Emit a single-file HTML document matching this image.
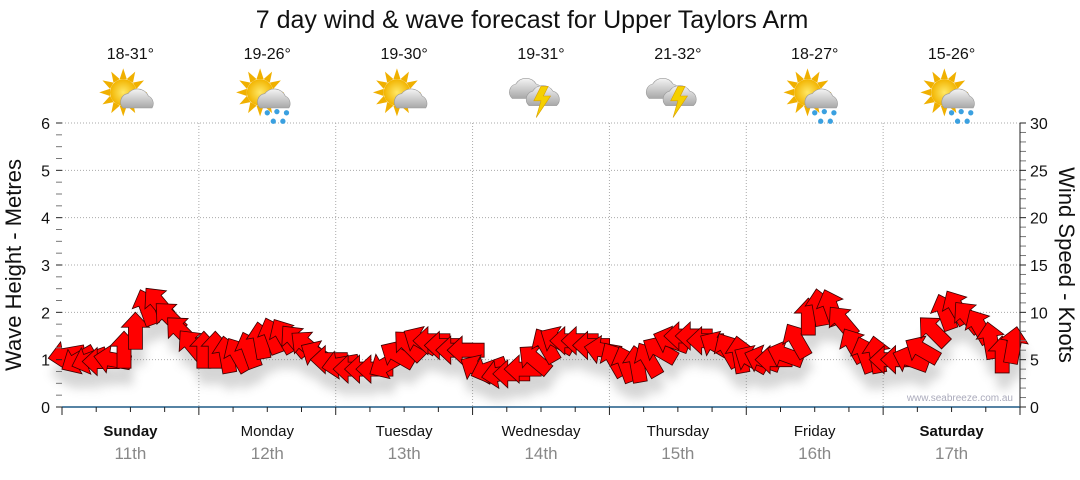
<!DOCTYPE html>
<html><head><meta charset="utf-8"><style>
body{margin:0;background:#fff;}
svg text{font-family:"Liberation Sans",sans-serif;}
</style></head><body>
<svg id="chart" width="1080" height="475" viewBox="0 0 1080 475" xmlns="http://www.w3.org/2000/svg">
<defs>
<filter id="shadow" x="-50%" y="-50%" width="200%" height="200%"><feGaussianBlur stdDeviation="5"/></filter>
<radialGradient id="sunG" cx="0.5" cy="0.5" r="0.5"><stop offset="0" stop-color="#ffe866"/><stop offset="1" stop-color="#f2b400"/></radialGradient>
<linearGradient id="cloudG" x1="0" y1="0" x2="0" y2="1"><stop offset="0" stop-color="#f4f4f4"/><stop offset="1" stop-color="#a8a8a8"/></linearGradient>
</defs>
<text x="532" y="28" font-size="25" text-anchor="middle" fill="#111">7 day wind &amp; wave forecast for Upper Taylors Arm</text>
<text transform="translate(21,265) rotate(-90)" font-size="22" text-anchor="middle" fill="#111">Wave Height - Metres</text>
<text transform="translate(1059,265) rotate(90)" font-size="22" text-anchor="middle" fill="#111">Wind Speed - Knots</text>
<g id="grid"></g>
<g id="shadows" filter="url(#shadow)" opacity="0.3"></g>
<g id="arrows"></g>
<g id="axes"></g>
<g id="icons"></g>
<text x="1013" y="401" font-size="10" text-anchor="end" fill="#aab">www.seabreeze.com.au</text>
</svg>
<script>
const days = ["Sunday","Monday","Tuesday","Wednesday","Thursday","Friday","Saturday"];
const dates = ["11th","12th","13th","14th","15th","16th","17th"];
const temps = ["18-31°","19-26°","19-30°","19-31°","21-32°","18-27°","15-26°"];
const icons = ["partly","rain","partly","storm","storm","rain","rain"];
const waveTicks = [0,1,2,3,4,5,6];
const windTicks = [0,5,10,15,20,25,30];
const windSpeed = [
5.5,5,5,4.8,5,6,8,10.5,11,9.5,8,6.5,
6,6,5.5,5.5,6,7,7.5,7.5,7,6.5,5.5,5,
4.5,4,4,4,4.5,5.5,6.5,7,7,6.5,6,6,
4,4,3.5,3.5,4,5,6.5,7,7,7,6.5,6,
5,4.5,4.5,5,6,7,7.5,7.5,7,6.5,6,5.5,
5,5,5,5.5,7,9.5,10.5,10.5,9,6.5,5.5,5.5,
5,5,5,6,8,10,10.5,9.5,8.5,7,5.5,6.5];
const windDir = [
-100,-120,-110,-90,-80,0,0,-20,-40,-45,-45,-40,
0,0,-10,-30,-20,-10,-20,-30,-40,-50,-60,-90,
-100,-90,-90,-90,-120,-60,-45,-60,-90,-90,-90,-90,
-60,-110,-100,-90,-90,-50,-30,-60,-90,-90,-90,-80,
-30,-20,-10,-30,-60,-70,-90,-90,-90,-60,-30,-10,
-60,-70,-90,-70,-30,0,-10,-20,-40,-30,-20,-10,
-90,-90,-70,-60,-45,-20,-30,-40,-30,-10,0,10];

const NS="http://www.w3.org/2000/svg";
const X0=62,X1=1020,Y0=407,Y1=123;
const dayW=(X1-X0)/7;
const yWave=v=>Y0-(v/6)*(Y0-Y1);
const yWind=v=>Y0-(v/30)*(Y0-Y1);
const xIdx=i=>X0+i*(X1-X0)/windSpeed.length+5;
function mk(tag,attrs,parent){const e=document.createElementNS(NS,tag);for(const k in attrs)e.setAttribute(k,attrs[k]);parent.appendChild(e);return e;}
const grid=document.getElementById('grid'),axes=document.getElementById('axes');
waveTicks.forEach(v=>{
  if(v>0){const l=mk('line',{x1:X0,x2:X1,y1:yWave(v),y2:yWave(v),stroke:'#aaa','stroke-dasharray':'1,2'},grid);
  
  }
  const t=mk('text',{x:50,y:yWave(v)+6,'font-size':16,'text-anchor':'end',fill:'#111'},axes);t.textContent=v;
  
  
});
windTicks.forEach(v=>{const t=mk('text',{x:1030,y:yWind(v)+6,'font-size':16,fill:'#111'},axes);t.textContent=v;
  
  });
for(let k=0;k<=24;k++){const y=Y0-k*(Y0-Y1)/24;mk('line',{x1:56,x2:62,y1:y,y2:y,stroke:k%4==0?'#222':'#777'},axes);}
for(let k=0;k<=30;k++){const y=yWind(k);mk('line',{x1:X1,x2:X1+6,y1:y,y2:y,stroke:k%5==0?'#222':'#777'},axes);}
mk('line',{x1:X1,x2:X1,y1:Y1,y2:Y0,stroke:'#222'},axes);
for(let d=1;d<7;d++){const x=X0+d*dayW;const l=mk('line',{x1:x,x2:x,y1:Y1,y2:Y0,stroke:'#aaa','stroke-dasharray':'1,2'},grid);
  
  }
mk('line',{x1:X0,x2:X1,y1:Y0,y2:Y0,stroke:'#1f5a86','stroke-width':1.5},axes);
for(let k=0;k<=28;k++){const x=X0+k*dayW/4;mk('line',{x1:x,x2:x,y1:Y0,y2:Y0+(k%4==0?8:5),stroke:'#222'},axes);}
days.forEach((d,i)=>{
  const cx=X0+(i+0.5)*dayW;
  const t=mk('text',{x:cx,y:436,'font-size':15,'text-anchor':'middle',fill:'#111','font-weight':(i==0||i==6)?'bold':'normal'},axes);t.textContent=d;
  
  
  const t2=mk('text',{x:cx,y:459,'font-size':17,'text-anchor':'middle',fill:'#888'},axes);t2.textContent=dates[i];
  
  
  const t3=mk('text',{x:cx,y:59,'font-size':16,'text-anchor':'middle',fill:'#111'},axes);t3.textContent=temps[i];
  
  
  const g=mk('g',{transform:`translate(${cx},96) scale(1.2)`},document.getElementById('icons'));
  
  
  const ic=icons[i];
  if(ic!=='storm'){
    for(let a=0;a<12;a++){const r=a*30;mk('polygon',{points:'-3,-11 0,-20 3,-11',fill:'#f0b000',transform:`translate(-6,-3) rotate(${r})`},g);}
    mk('circle',{cx:-6,cy:-3,r:11,fill:'url(#sunG)'},g);
    mk('path',{d:'M-6,10 a7,7 0 0 1 4,-12 a10,10 0 0 1 17,2 a7,7 0 0 1 3,10 z',fill:'url(#cloudG)',stroke:'#999','stroke-width':0.5},g);
    if(ic==='rain'){[[0,14],[8,13],[16,14],[5,21],[13,21]].forEach(p=>mk('circle',{cx:p[0],cy:p[1],r:2.2,fill:'#3aa0e0'},g));}
  } else {
    mk('path',{d:'M-24,2 a7,7 0 0 1 3,-12 a10,10 0 0 1 17,0 a7,7 0 0 1 3,12 z',fill:'url(#cloudG)',stroke:'#999','stroke-width':0.5},g);
    mk('path',{d:'M-10,8 a7,7 0 0 1 3,-12 a10,10 0 0 1 17,0 a7,7 0 0 1 3,12 z',fill:'url(#cloudG)',stroke:'#999','stroke-width':0.5},g);
    mk('polygon',{points:'0,-8 -6,4 0,4 -4,18 8,0 2,0 6,-8',fill:'#f5d000',stroke:'#d9a000','stroke-width':0.5},g);
  }
});
// arrows
const ag=document.getElementById('arrows'),sg=document.getElementById('shadows');
const arrowPts='0,-19 14,-4 7,-4 7,18 -7,18 -7,-4 -14,-4';
windSpeed.forEach((v,i)=>{
  const x=xIdx(i),y=yWind(v);
  mk('polygon',{points:arrowPts,fill:'#777',transform:`translate(${x+2},${y+16}) rotate(${windDir[i]})`},sg);
  const p=mk('polygon',{points:arrowPts,fill:'#ff0000',stroke:'#3a0000','stroke-width':0.8,transform:`translate(${x},${y}) rotate(${windDir[i]})`},ag);
  
  
});
</script>
</body></html>
